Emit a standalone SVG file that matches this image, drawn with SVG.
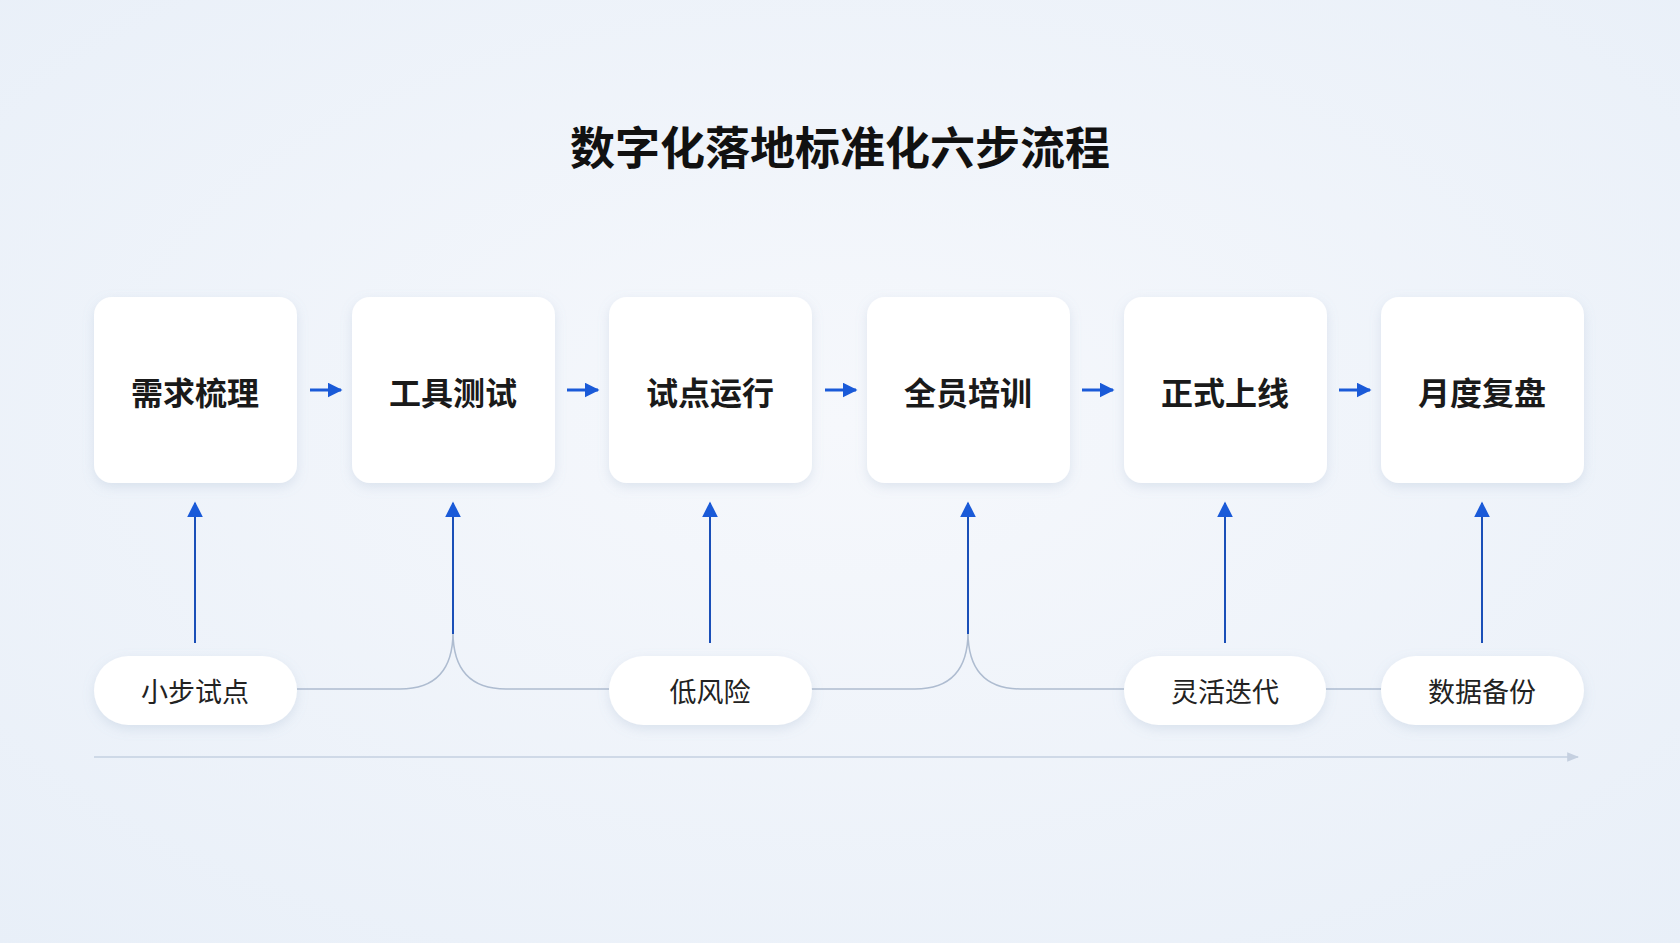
<svg xmlns="http://www.w3.org/2000/svg" width="1680" height="943" viewBox="0 0 1680 943">
<defs>
<radialGradient id="bg" cx="50%" cy="45%" r="75%"><stop offset="0" stop-color="#f6f8fc"/><stop offset="1" stop-color="#e8eff8"/></radialGradient>
<filter id="sh" x="-20%" y="-20%" width="140%" height="150%"><feDropShadow dx="0" dy="4" stdDeviation="6" flood-color="#8aa0c0" flood-opacity="0.22"/></filter>
<marker id="ab" viewBox="0 0 10 10" refX="9" refY="5" markerWidth="5" markerHeight="5" orient="auto"><path d="M0,0L10,5L0,10z" fill="#1a5ad8"/></marker>
<marker id="au" viewBox="0 0 10 10" refX="9" refY="5" markerWidth="8" markerHeight="9" orient="auto"><path d="M0,0L10,5L0,10z" fill="#1a5ad8"/></marker>
<marker id="ag" viewBox="0 0 10 10" refX="9" refY="5" markerWidth="8" markerHeight="8" orient="auto"><path d="M0,1L10,5L0,9z" fill="#c5d0e0"/></marker>
<style>
.box{fill:#fff;filter:url(#sh)}
.t{font-family:"Noto Sans CJK SC",sans-serif;font-weight:700;font-size:32px;fill:#1a1a1a;text-anchor:middle;dominant-baseline:central}
.p{font-family:"Noto Sans CJK SC",sans-serif;font-size:27px;fill:#222;text-anchor:middle;dominant-baseline:central}
.h{stroke:#1a5ad8;stroke-width:3;fill:none}
.v{stroke:#1a4fb8;stroke-width:2;fill:none}
.c{stroke:#aebcd0;stroke-width:1.5;fill:none}
</style>
</defs>
<rect width="1680" height="943" fill="url(#bg)"/>
<text x="840" y="145" font-family="Noto Sans CJK SC,sans-serif" font-weight="700" font-size="45" fill="#111" text-anchor="middle" dominant-baseline="central">数字化落地标准化六步流程</text>
<g id="connectors">
<path class="c" d="M297,689 H400 Q453,689 453,632 Q453,689 506,689 H609"/>
<path class="c" d="M811,689 H915 Q968,689 968,632 Q968,689 1021,689 H1124"/>
<path class="c" d="M1326,689 H1381"/>
<path d="M94,757 H1578" stroke="#c5d0e0" stroke-width="1.5" marker-end="url(#ag)"/>
<path class="h" d="M310,390 H341" marker-end="url(#ab)"/>
<path class="h" d="M567,390 H598" marker-end="url(#ab)"/>
<path class="h" d="M825,390 H856" marker-end="url(#ab)"/>
<path class="h" d="M1082,390 H1113" marker-end="url(#ab)"/>
<path class="h" d="M1339,390 H1370" marker-end="url(#ab)"/>
<path class="v" d="M195,643 V503" marker-end="url(#au)"/>
<path class="v" d="M453,634 V503" marker-end="url(#au)"/>
<path class="v" d="M710,643 V503" marker-end="url(#au)"/>
<path class="v" d="M968,634 V503" marker-end="url(#au)"/>
<path class="v" d="M1225,643 V503" marker-end="url(#au)"/>
<path class="v" d="M1482,643 V503" marker-end="url(#au)"/>
</g>
<g id="n1"><rect class="box" x="94" y="297" width="203" height="186" rx="18"/><text class="t" x="195" y="391">需求梳理</text></g>
<g id="n2"><rect class="box" x="352" y="297" width="203" height="186" rx="18"/><text class="t" x="453" y="391">工具测试</text></g>
<g id="n3"><rect class="box" x="609" y="297" width="203" height="186" rx="18"/><text class="t" x="710" y="391">试点运行</text></g>
<g id="n4"><rect class="box" x="867" y="297" width="203" height="186" rx="18"/><text class="t" x="968" y="391">全员培训</text></g>
<g id="n5"><rect class="box" x="1124" y="297" width="203" height="186" rx="18"/><text class="t" x="1225" y="391">正式上线</text></g>
<g id="n6"><rect class="box" x="1381" y="297" width="203" height="186" rx="18"/><text class="t" x="1482" y="391">月度复盘</text></g>
<g id="p1"><rect class="box" x="94" y="656" width="203" height="69" rx="34.5"/><text class="p" x="195" y="690">小步试点</text></g>
<g id="p2"><rect class="box" x="609" y="656" width="203" height="69" rx="34.5"/><text class="p" x="710" y="690">低风险</text></g>
<g id="p3"><rect class="box" x="1124" y="656" width="202" height="69" rx="34.5"/><text class="p" x="1225" y="690">灵活迭代</text></g>
<g id="p4"><rect class="box" x="1381" y="656" width="203" height="69" rx="34.5"/><text class="p" x="1482" y="690">数据备份</text></g>
</svg>
